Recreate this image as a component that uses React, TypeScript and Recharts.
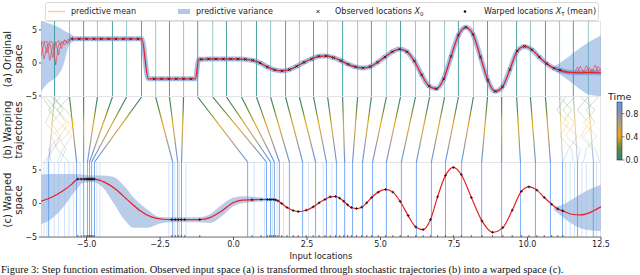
import React from 'react';
import { ComposedChart, Line, Area, Scatter, XAxis, YAxis, ReferenceLine } from 'recharts';

// ---- values ----
const xTicks = [-5, -2.5, 0, 2.5, 5, 7.5, 10, 12.5];
const yTicks = [-5, 0, 5];

// ODE trajectories: start (original space) -> end (warped space)
const trajStart = [-6.09, -5.58, -5.1, -4.63, -4.12, -3.64, -3.13, -2.65, -2.18, -1.7, -1.22, -0.71, -0.24, 0.27, 0.78, 1.26, 1.77, 2.24, 2.72, 3.2, 3.71, 4.22, 4.69, 5.2, 5.68, 6.19, 6.67, 7.18, 7.65, 8.16, 8.64, 9.12, 9.63, 10.1, 10.61, 11.09, 11.56, 12.07];
const trajEnd = [-6.29, -5.34, -5.1, -4.97, -4.9, -4.83, -4.73, -2.07, -1.9, -1.77, 0.48, 1.12, 1.26, 1.39, 1.56, 1.9, 2.35, 2.79, 3.16, 3.5, 3.78, 4.05, 4.39, 4.73, 5.2, 5.71, 6.22, 6.73, 7.21, 7.76, 8.44, 9.12, 9.76, 10.27, 10.78, 11.19, 11.7, 12.24];

// wandering sample trajectories in the unobserved regions
const wanderT = [0, 0.2, 0.4, 0.6, 0.8, 1];
const wanderLeft = [
  [-6.1, -5.8, -6.2, -5.9, -6.3, -6.2],
  [-6.4, -6.0, -5.6, -5.9, -6.1, -6.45],
  [-5.9, -6.3, -5.9, -5.5, -5.8, -6.0],
  [-6.5, -6.2, -6.4, -6.0, -5.7, -5.9],
  [-5.6, -6.0, -5.7, -6.2, -6.0, -5.6],
  [-6.2, -5.7, -5.4, -5.7, -6.2, -6.35],
];
const wanderRight = [
  [11.1, 11.5, 11.2, 11.7, 11.4, 11.2],
  [11.6, 11.2, 11.6, 11.3, 11.8, 11.7],
  [12.05, 11.7, 12.1, 11.8, 12.2, 12.25],
  [11.8, 12.3, 11.9, 12.35, 12.0, 11.9],
  [12.4, 12.0, 12.3, 11.9, 12.3, 12.45],
  [11.3, 11.0, 11.4, 11.1, 11.5, 11.55],
];

// observed locations (original space), their values and warped positions
const obsX = [-5.5, -5.25, -5.0, -4.75, -4.5, -4.25, -4.0, -3.75, -3.5, -3.25,
  -2.7, -2.45, -2.2, -1.95, -1.7, -1.45,
  -1.1, -0.85, -0.6, -0.35, -0.1, 0.15, 0.4, 0.65, 0.9, 1.15, 1.4, 1.65, 1.9, 2.15, 2.4, 2.65, 2.9, 3.15, 3.4, 3.65,
  3.9, 4.15, 4.4, 4.65, 4.9, 5.15, 5.4, 5.65, 5.9, 6.15, 6.4, 6.65, 6.9, 7.15, 7.4, 7.65, 7.9, 8.15, 8.4, 8.65,
  8.9, 9.15, 9.4, 9.65, 9.9, 10.15, 10.4, 10.65, 10.9, 11.1];
const obsY = [3.65, 3.65, 3.65, 3.65, 3.65, 3.65, 3.65, 3.65, 3.65, 3.65,
  -2.4, -2.4, -2.4, -2.4, -2.4, -2.4,
  0.55, 0.6, 0.6, 0.6, 0.6, 0.6, 0.55, 0.4, 0.0, -0.6, -1.05, -1.2, -1.0, -0.5, 0.1, 0.6, 1.0, 1.05, 0.8, 0.35,
  -0.2, -0.6, -0.75, -0.55, 0.1, 0.9, 1.7, 2.1, 1.7, 0.3, -1.8, -3.5, -3.9, -2.4, 1.0, 4.2, 5.4, 4.3, 0.9, -2.6,
  -4.3, -3.6, -1.0, 1.8, 2.5, 2.0, 0.9, -0.1, -0.8, -1.1];
const warpX = [-5.3, -5.18, -5.08, -5.01, -4.96, -4.92, -4.88, -4.84, -4.79, -4.74,
  -2.1, -1.98, -1.88, -1.78, -1.66, -1.15,
  0.63, 0.94, 1.15, 1.23, 1.3, 1.36, 1.43, 1.51, 1.64, 1.82, 2.03, 2.2, 2.47, 2.71, 2.91, 3.11, 3.29, 3.47, 3.61, 3.75,
  3.88, 4.01, 4.18, 4.36, 4.53, 4.7, 4.92, 5.17, 5.42, 5.67, 5.94, 6.2, 6.45, 6.7, 6.94, 7.21, 7.48, 7.75, 8.09, 8.45,
  8.81, 9.16, 9.48, 9.79, 10.05, 10.32, 10.57, 10.82, 11.03, 11.2];

// extra mean points in original space (step edges, extrapolation)
const meanExtraX = [-3.12, -2.9, -1.3, -1.18, 11.4, 11.8, 12.2, 12.5];
const meanExtraY = [3.65, -2.4, -2.4, 0.55, -1.4, -1.5, -1.45, -1.5];

// GP mean in warped space between observations
const warpGapX = [-6.55, -6.2, -5.8, -5.5, -4.45, -4.0, -3.6, -3.2, -2.8, -2.4, -0.8, -0.4, 0.0, 0.3, 11.5, 11.8, 12.2, 12.5];
const warpGapY = [0.35, 0.9, 1.9, 2.9, 3.3, 2.1, 0.5, -1.0, -2.0, -2.35, -2.1, -1.1, 0.15, 0.5, -1.6, -1.7, -1.2, -0.5];

// sample spread in original space
const bandALeftX = [-6.55, -6.3, -6.0, -5.8, -5.6, -5.45];
const bandALeftLo = [-4.3, -3.0, -2.0, -0.5, 2.6, 3.25];
const bandALeftHi = [6.35, 6.0, 5.5, 5.0, 4.5, 4.1];
const bandARightX = [10.95, 11.2, 11.5, 11.8, 12.1, 12.5];
const bandARightLo = [-1.3, -2.0, -3.0, -4.0, -4.8, -5.0];
const bandARightHi = [-0.4, 0.3, 1.3, 2.3, 3.2, 4.2];

// predictive variance in warped space
const bandCLeftX = [-6.55, -6.2, -5.8, -5.4, -5.1, -4.8, -4.5, -4.1, -3.7, -3.4, -2.9, -2.5, -2.1, -1.2, -0.8, -0.4, 0.0, 0.4, 0.9, 1.3];
const bandCLeftLo = [-3.1, -2.3, -0.6, 1.8, 3.1, 3.2, 2.6, 0.2, -2.5, -3.6, -3.6, -3.0, -2.8, -2.8, -2.9, -1.9, -0.4, 0.1, 0.3, 0.35];
const bandCLeftHi = [4.3, 4.4, 4.4, 4.4, 4.3, 4.2, 4.2, 4.0, 2.5, 0.9, -1.0, -2.0, -2.05, -2.05, -1.6, -0.2, 0.9, 1.1, 0.9, 0.75];
const bandCRightX = [10.9, 11.2, 11.5, 11.8, 12.1, 12.5];
const bandCRightLo = [-1.0, -2.0, -3.0, -3.7, -4.0, -4.1];
const bandCRightHi = [-0.5, -0.2, 0.6, 1.4, 2.1, 2.8];

// red posterior samples where there is no data
const redLeftX = [-6.55, -6.45, -6.35, -6.25, -6.15, -6.05, -5.95, -5.85, -5.75, -5.65, -5.55];
const redLeft = [
  [2.8, 3.3, 1.5, 3.0, 0.8, 2.9, 3.4, 2.2, 3.5, 3.1, 3.65],
  [1.0, 3.0, 3.3, 0.4, 2.6, 3.2, 1.2, 3.3, 2.7, 3.5, 3.65],
  [3.4, 0.6, 2.4, 3.3, 3.1, -0.3, 2.8, 3.0, 3.4, 2.9, 3.65],
];
const redRightX = [11.1, 11.2, 11.3, 11.4, 11.5, 11.6, 11.7, 11.8, 11.9, 12.0, 12.1, 12.2, 12.3, 12.4, 12.5];
const redRight = [
  [-1.1, -1.3, -1.4, -1.5, -1.45, -1.5, -0.6, -1.5, -1.3, -0.4, -1.4, -0.9, -1.5, -0.5, -1.2],
  [-1.1, -1.35, -1.45, -1.5, -1.4, -1.5, -1.3, -0.5, -1.4, -1.2, -0.7, -1.5, -0.3, -1.3, -0.8],
];

// faint sampled end positions in warped space
const endFaintX = [-6.45, -6.35, -6.1, -5.95, -5.75, -5.6, -5.45, -5.22, -4.65, -4.55, -2.2, -2.0, -1.84, -1.62, 0.7, 1.05, 1.33, 1.48, 1.7, 2.55, 3.05, 3.35, 11.3, 11.45, 11.6, 11.85, 12.0, 12.35];

// ---- tables for the library ----
const X_DOMAIN: [number, number] = [-6.55, 12.5];
const A_DOMAIN: [number, number] = [-5, 6.35];
const C_DOMAIN: [number, number] = [-5, 6.2];

const byX = (a: { x: number }, b: { x: number }) => a.x - b.x;
const obsPts = obsX.map((x, i) => ({ x, y: obsY[i] }));
const meanA = [...obsPts, ...meanExtraX.map((x, i) => ({ x, y: meanExtraY[i] }))].sort(byX);
const warpPts = warpX.map((x, i) => ({ x, y: obsY[i] }));
const meanC = [...warpPts, ...warpGapX.map((x, i) => ({ x, y: warpGapY[i] }))].sort(byX);
const rugPts = warpX.map((x) => ({ x, y: -4.85 }));

const bandA = [
  ...bandALeftX.map((x, i) => ({ x, band: [bandALeftLo[i], bandALeftHi[i]] })),
  { x: 3, band: null },
  ...bandARightX.map((x, i) => ({ x, band: [bandARightLo[i], bandARightHi[i]] })),
];
const bandC = [
  ...bandCLeftX.map((x, i) => ({ x, band: [bandCLeftLo[i], bandCLeftHi[i]] })),
  { x: 6, band: null },
  ...bandCRightX.map((x, i) => ({ x, band: [bandCRightLo[i], bandCRightHi[i]] })),
];

const trajectories = trajStart.map((s, i) => [{ x: s, t: 0 }, { x: trajEnd[i], t: 1 }]);
const wanderers = [...wanderLeft, ...wanderRight].map((row) => row.map((x, i) => ({ x, t: wanderT[i] })));
const redLeftPts = redLeft.map((row) => row.map((y, i) => ({ x: redLeftX[i], y })));
const redRightPts = redRight.map((row) => row.map((y, i) => ({ x: redRightX[i], y })));

// ---- styling ----
const FONT = '"DejaVu Sans", Verdana, sans-serif';
const timeStops = [
  { o: 0, c: '#2a8580' },
  { o: 0.2, c: '#5f8a3e' },
  { o: 0.42, c: '#f0a31a' },
  { o: 0.62, c: '#b8a070' },
  { o: 0.8, c: '#8a93ad' },
  { o: 1, c: '#5a98f5' },
];

const fmtX = (v: number) => (v < 0 ? '\u2212' : '') + Math.abs(v).toFixed(1);
const fmtY = (v: number) => (v < 0 ? '\u2212' : '') + Math.abs(v);
const tickStyle = { fontSize: 8, fill: '#222', fontFamily: FONT };

const Empty = () => <g />;

const XMark = (p: any) => {
  const { cx, cy } = p;
  if (!Number.isFinite(cx) || !Number.isFinite(cy)) return <g />;
  const s = 1.4;
  return (
    <path d={`M${cx - s},${cy - s}L${cx + s},${cy + s}M${cx - s},${cy + s}L${cx + s},${cy - s}`} stroke="#111" strokeWidth={0.75} fill="none" />
  );
};

const PlusMark = (p: any) => {
  const { cx, cy } = p;
  if (!Number.isFinite(cx) || !Number.isFinite(cy)) return <g />;
  const s = 1.4;
  return <path d={`M${cx - s},${cy}H${cx + s}M${cx},${cy - s}V${cy + s}`} stroke="#111" strokeWidth={0.8} fill="none" />;
};

const RugMark = (p: any) => {
  const { cx, cy } = p;
  if (!Number.isFinite(cx) || !Number.isFinite(cy)) return <g />;
  return <rect x={cx - 0.6} y={cy - 0.6} width={1.2} height={1.2} fill="#333" />;
};

const Frame = ({ top, height }: { top: number; height: number }) => (
  <div style={{ position: 'absolute', left: 41, top, width: 560, height, boxSizing: 'border-box', border: '1px solid #e4e4e4' }} />
);

const AxisTitle = ({ cy, lines }: { cy: number; lines: string[] }) => (
  <g fontFamily={FONT} fontSize={10} fill="#222" textAnchor="middle">
    <text transform={`translate(10.5 ${cy}) rotate(-90)`}>{lines[0]}</text>
    <text transform={`translate(22 ${cy}) rotate(-90)`}>{lines[1]}</text>
  </g>
);

const cbTicks = [0, 0.4, 0.8];

export default function App() {
  return (
    <div style={{ position: 'absolute', left: 0, top: 0, width: 640, height: 275, overflow: 'hidden', background: '#fff' }}>
      <Frame top={21} height={76} />
      <Frame top={96} height={67} />
      <Frame top={162} height={76} />

      {/* (a) original space */}
      <div style={{ position: 'absolute', left: 0, top: 15 }}>
        <ComposedChart width={640} height={87} data={bandA} margin={{ top: 6, right: 39, bottom: 6, left: 0 }}>
          <XAxis type="number" dataKey="x" domain={X_DOMAIN} allowDataOverflow hide />
          <YAxis type="number" dataKey="y" domain={A_DOMAIN} allowDataOverflow ticks={yTicks} interval={0} width={41}
            tick={tickStyle} tickFormatter={fmtY} tickSize={2} tickMargin={2} tickLine={{ stroke: '#555' }} axisLine={false} />
          {trajStart.map((x, i) => (
            <ReferenceLine key={'s' + i} x={x} stroke="#2f9490" strokeOpacity={i % 2 ? 0.5 : 0.85} strokeWidth={1} />
          ))}
          <Area dataKey="band" type="monotone" fill="#7aa6da" fillOpacity={0.55} stroke="none" isAnimationActive={false} />
          <Line data={meanA} dataKey="y" type="monotone" stroke="#5b8fd6" strokeOpacity={0.55} strokeWidth={5} dot={false} isAnimationActive={false} />
          {redLeftPts.map((pts, i) => (
            <Scatter key={'rl' + i} data={pts} fill="none" shape={Empty} line={{ stroke: '#ee1c25', strokeWidth: 0.6, strokeOpacity: 0.85 }} isAnimationActive={false} />
          ))}
          {redRightPts.map((pts, i) => (
            <Scatter key={'rr' + i} data={pts} fill="none" shape={Empty} line={{ stroke: '#ee1c25', strokeWidth: 0.6, strokeOpacity: 0.85 }} isAnimationActive={false} />
          ))}
          <Line data={meanA} dataKey="y" type="monotone" stroke="#ee1c25" strokeWidth={1.3} dot={false} isAnimationActive={false} />
          <Scatter data={obsPts} shape={XMark} isAnimationActive={false} />
        </ComposedChart>
      </div>

      {/* (b) warping trajectories */}
      <div style={{ position: 'absolute', left: 0, top: 97 }}>
        <ComposedChart width={640} height={65} margin={{ top: 0, right: 39, bottom: 0, left: 41 }}>
          <defs>
            <linearGradient id="timeGrad" gradientUnits="userSpaceOnUse" x1="0" y1="0" x2="0" y2="65">
              {timeStops.map((s) => <stop key={s.o} offset={s.o} stopColor={s.c} />)}
            </linearGradient>
          </defs>
          <XAxis type="number" dataKey="x" domain={X_DOMAIN} allowDataOverflow hide />
          <YAxis type="number" dataKey="t" domain={[0, 1]} reversed allowDataOverflow hide />
          {wanderers.map((pts, i) => (
            <Scatter key={'w' + i} data={pts} fill="none" shape={Empty} line={{ stroke: 'url(#timeGrad)', strokeWidth: 0.7, strokeOpacity: 0.4 }} isAnimationActive={false} />
          ))}
          {trajectories.map((pts, i) => (
            <Scatter key={'t' + i} data={pts} fill="none" shape={Empty}
              line={{ stroke: 'url(#timeGrad)', strokeWidth: 1.15, strokeOpacity: i === 0 || i >= 35 ? 0.45 : 1 }} isAnimationActive={false} />
          ))}
        </ComposedChart>
      </div>

      {/* (c) warped space */}
      <div style={{ position: 'absolute', left: 0, top: 156 }}>
        <ComposedChart width={640} height={107} data={bandC} margin={{ top: 6, right: 39, bottom: 4, left: 0 }}>
          <XAxis type="number" dataKey="x" domain={X_DOMAIN} allowDataOverflow ticks={xTicks} interval={0} height={22}
            tick={tickStyle} tickFormatter={fmtX} tickSize={3} tickMargin={1} tickLine={{ stroke: '#555' }} axisLine={{ stroke: '#777' }}
            label={{ value: 'Input locations', position: 'insideBottom', offset: 0, fontSize: 8.5, fill: '#222', fontFamily: FONT }} />
          <YAxis type="number" dataKey="y" domain={C_DOMAIN} allowDataOverflow ticks={yTicks} interval={0} width={41}
            tick={tickStyle} tickFormatter={fmtY} tickSize={2} tickMargin={2} tickLine={{ stroke: '#555' }} axisLine={false} />
          {endFaintX.map((x, i) => (
            <ReferenceLine key={'f' + i} x={x} stroke="#8db8f5" strokeOpacity={0.4} strokeWidth={1} />
          ))}
          {trajEnd.map((x, i) => (
            <ReferenceLine key={'e' + i} x={x} stroke="#4e90f0" strokeOpacity={0.75} strokeWidth={1} />
          ))}
          <Area dataKey="band" type="monotone" fill="#a9c1e2" fillOpacity={0.8} stroke="none" isAnimationActive={false} />
          <Line data={meanC} dataKey="y" type="monotone" stroke="#ee1c25" strokeWidth={1.2} dot={false} isAnimationActive={false} />
          <Scatter data={warpPts} shape={PlusMark} isAnimationActive={false} />
          <Scatter data={rugPts} shape={RugMark} isAnimationActive={false} />
        </ComposedChart>
      </div>

      {/* titles, legend, colorbar, caption */}
      <svg width={640} height={280} style={{ position: 'absolute', left: 0, top: 0, pointerEvents: 'none' }}>
        <defs>
          <linearGradient id="cbGrad" x1="0" y1="1" x2="0" y2="0">
            {timeStops.map((s) => <stop key={s.o} offset={s.o} stopColor={s.c} />)}
          </linearGradient>
        </defs>
        <AxisTitle cy={59} lines={['(a) Original', 'space']} />
        <AxisTitle cy={130} lines={['(b) Warping', 'trajectories']} />
        <AxisTitle cy={200} lines={['(c) Warped', 'space']} />

        <g fontFamily={FONT} fontSize={8} fill="#222">
          <rect x={45.5} y={2.5} width={553} height={18} rx={2} fill="#fff" stroke="#d9d9d9" />
          <line x1={48} x2={65} y1={11.5} y2={11.5} stroke="#f3cdb5" strokeWidth={1.5} />
          <text x={71} y={14.3}>predictive mean</text>
          <rect x={178} y={9} width={12} height={5} fill="#b3c8e6" />
          <text x={196} y={14.3}>predictive variance</text>
          <path d="M316.5,10L319.5,13M316.5,13L319.5,10" stroke="#111" strokeWidth={0.8} />
          <text x={335} y={14.3}>
            Observed locations <tspan fontStyle="italic">X</tspan>
            <tspan fontSize={5.5} dy={2}>0</tspan>
          </text>
          <circle cx={465} cy={11.5} r={1.3} fill="#111" />
          <text x={484} y={14.3}>
            Warped locations <tspan fontStyle="italic">X</tspan>
            <tspan fontSize={5.5} dy={2}>T</tspan>
            <tspan dy={-2}> (mean)</tspan>
          </text>
        </g>

        <g fontFamily={FONT} fill="#222">
          <text x={608} y={99.5} fontSize={9.5}>Time</text>
          <rect x={617} y={102} width={5} height={58} fill="url(#cbGrad)" stroke="#333" strokeWidth={0.6} />
          {cbTicks.map((v) => (
            <g key={v}>
              <line x1={622} x2={624.5} y1={160 - v * 58} y2={160 - v * 58} stroke="#333" strokeWidth={0.6} />
              <text x={625.5} y={163 - v * 58} fontSize={8}>{v.toFixed(1)}</text>
            </g>
          ))}
        </g>

        <text x={1} y={273} fontFamily='"Liberation Serif", "Times New Roman", serif' fontSize={10.5} fill="#111">
          Figure 3: Step function estimation. Observed input space (a) is transformed through stochastic trajectories (b) into a warped space (c).
        </text>
      </svg>
    </div>
  );
}
